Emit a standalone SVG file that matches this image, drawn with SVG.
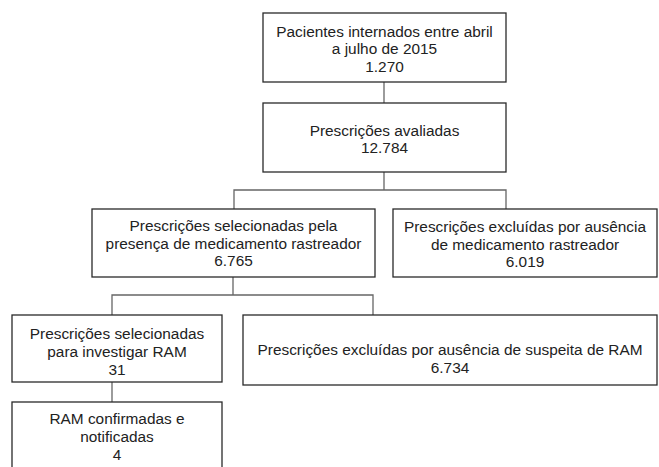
<svg xmlns="http://www.w3.org/2000/svg" width="659" height="467" viewBox="0 0 659 467">
<style>
.box{fill:#fff;stroke:#2a2a2a;stroke-width:1.3}
.con{fill:none;stroke:#666;stroke-width:1.3}
text{font-family:"Liberation Sans",Arial,sans-serif;font-size:15.4px;fill:#222;text-anchor:middle}
</style>
<rect width="659" height="467" fill="#fff"/>
<g id="connectors">
<path class="con" d="M384,82 V103"/>
<path class="con" d="M384,172 V190 M234,209 V190 H506 V209"/>
<path class="con" d="M233,277 V295 M112,315 V295 H373 V315"/>
<path class="con" d="M112,382 V402"/>
</g>
<g id="n1">
<rect class="box" x="263" y="13" width="243" height="69"/>
<text x="384.5" y="36.5">Pacientes internados entre abril</text>
<text x="384.5" y="54">a julho de 2015</text>
<text x="384.5" y="71.5">1.270</text>
</g>
<g id="n2">
<rect class="box" x="263" y="103" width="243" height="69"/>
<text x="384.5" y="135.5">Prescrições avaliadas</text>
<text x="384.5" y="153">12.784</text>
</g>
<g id="n3">
<rect class="box" x="92" y="209" width="283" height="68"/>
<text x="233.5" y="230.5">Prescrições selecionadas pela</text>
<text x="233.5" y="248.5">presença de medicamento rastreador</text>
<text x="233.5" y="266">6.765</text>
</g>
<g id="n4">
<rect class="box" x="393" y="209" width="264" height="68"/>
<text x="525" y="231.5">Prescrições excluídas por ausência</text>
<text x="525" y="249.5">de medicamento rastreador</text>
<text x="525" y="267">6.019</text>
</g>
<g id="n5">
<rect class="box" x="12" y="315" width="210" height="67"/>
<text x="117" y="338.5">Prescrições selecionadas</text>
<text x="117" y="357">para investigar RAM</text>
<text x="117" y="374.5">31</text>
</g>
<g id="n6">
<rect class="box" x="243" y="315" width="414" height="70"/>
<text x="450" y="355">Prescrições excluídas por ausência de suspeita de RAM</text>
<text x="450" y="373">6.734</text>
</g>
<g id="n7">
<rect class="box" x="12" y="402" width="210" height="70"/>
<text x="117" y="423.5">RAM confirmadas e</text>
<text x="117" y="442">notificadas</text>
<text x="117" y="460">4</text>
</g>
</svg>
